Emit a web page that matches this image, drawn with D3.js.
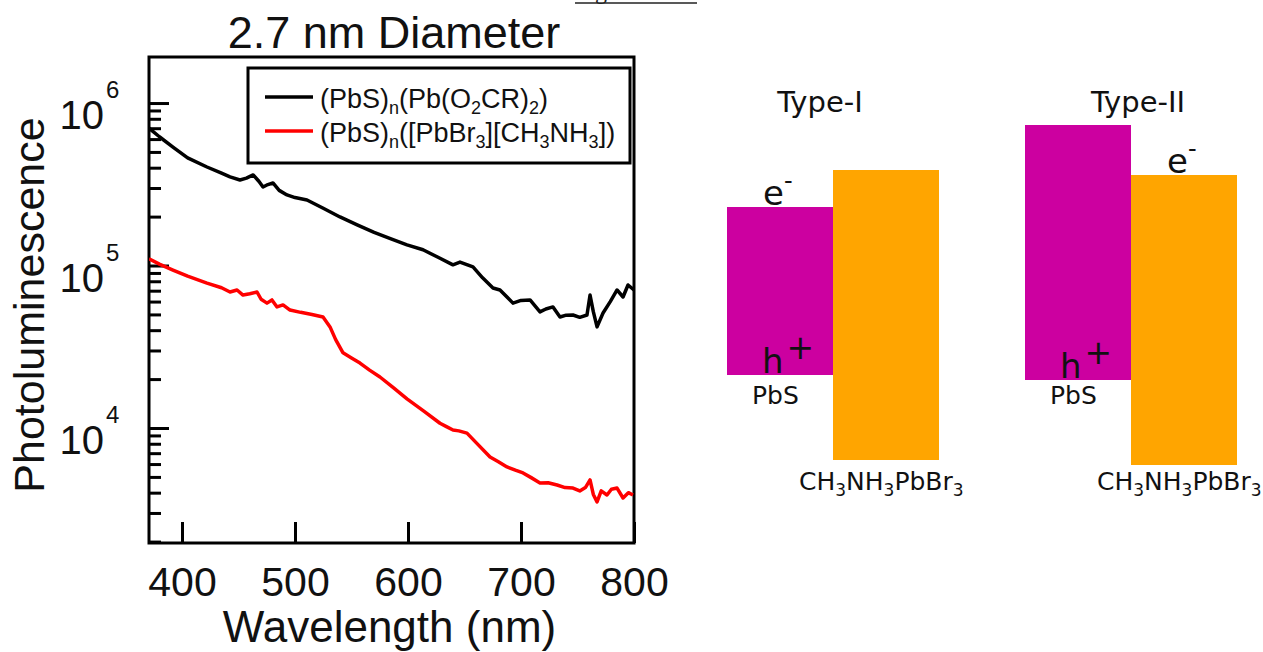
<!DOCTYPE html>
<html><head><meta charset="utf-8">
<script src="https://cdn.jsdelivr.net/npm/d3@7"></script>
<style>body{margin:0;background:#fff} svg{display:block}</style>
</head><body>
<svg id="c" width="1263" height="652"></svg>
<script>
// ---------- data: photoluminescence spectra ----------
const blackWl = [370.8,380,392.0,405,422.1,435,442.5,451.3,457,463.0,468,471.7,476,480.5,486,492.9,500,510.6,525,539.8,555,570,585,599.1,613.3,627,639.8,646.0,657.5,666,675.2,681.4,692.9,700,708.0,716.8,722,728.3,734.5,740,746.0,752,758.4,761.1,764,767.3,772.6,779,785.0,790.3,794.7,800];
const blackPL = [7.0e5,6.2e5,5.36e5,4.6e5,4.04e5,3.7e5,3.51e5,3.36e5,3.45e5,3.61e5,3.3e5,3.04e5,3.15e5,3.22e5,2.9e5,2.72e5,2.62e5,2.53e5,2.25e5,1.99e5,1.78e5,1.6e5,1.46e5,1.34e5,1.25e5,1.12e5,1.01e5,1.05e5,9.8e4,8.4e4,7.27e4,7.07e4,5.87e4,6.1e4,6.14e4,5.18e4,5.4e4,5.56e4,4.82e4,4.95e4,4.96e4,4.8e4,4.96e4,6.58e4,5.2e4,4.19e4,5.1e4,6.0e4,7.07e4,6.4e4,7.59e4,7.07e4];
const redWl = [370.8,380,392.0,405,422.1,435,442.5,448.7,454.0,460,466.4,470,475.2,479.6,484.1,489.4,495.6,505,515,524.8,531.0,536,542.5,550,557.5,566,575.2,587,599.1,614,628.3,634,639.8,645,652.2,662,672.6,680,687.6,695,701.8,709,716.8,724,731.9,739,746.0,752,757,761.1,764,767.3,771,776.1,780,785.0,790.3,795,799.1];
const redPL = [1.10e5,1.02e5,9.38e4,8.6e4,7.8e4,7.3e4,6.87e4,7.07e4,6.58e4,6.7e4,6.87e4,6.2e4,5.87e4,6.14e4,5.56e4,5.72e4,5.32e4,5.15e4,5.0e4,4.82e4,4.19e4,3.5e4,2.9e4,2.7e4,2.51e4,2.27e4,2.06e4,1.77e4,1.51e4,1.27e4,1.07e4,1.02e4,9.72e3,9.6e3,9.3e3,7.9e3,6.63e3,6.2e3,5.76e3,5.5e3,5.29e3,4.95e3,4.59e3,4.6e3,4.46e3,4.3e3,4.27e3,4.1e3,4.3e3,4.79e3,3.9e3,3.51e3,4.1e3,3.87e3,4.2e3,4.27e3,3.71e3,4.0e3,3.87e3];
const seriesColors = ["#000000", "#ff0000"];
const legendBlack = [["(PbS)",0],["n",1],["(Pb(O",0],["2",1],["CR)",0],["2",1],[")",0]];
const legendRed = [["(PbS)",0],["n",1],["([PbBr",0],["3",1],["][CH",0],["3",1],["NH",0],["3",1],["])",0]];
const xTicks = [400,500,600,700,800];
const yMajor = [1e4,1e5,1e6];
const yMinorMult = [2,3,4,5,6,7,8,9];
const xDomain = [370.8, 800];
const yDomain = [1960, 1.92e6];
const titleText = "2.7 nm Diameter";
const xLabel = "Wavelength (nm)";
const yLabel = "Photoluminescence";

// ---------- data: band alignment schematic ----------
const types = ["Type-I","Type-II"];
const materials = ["PbS","CH3NH3PbBr3"];
const pbsTop = [258, 340];
const pbsBottom = [90, 85];
const perTop = [295, 290];
const perBottom = [5, 0];
const bandColors = ["#cc00a0", "#ffa500"];

const svg = d3.select("#c");
const FONT = "'Liberation Sans', Arial, Helvetica, sans-serif";
const DJ = "'DejaVu Sans', sans-serif";

// ---------- left chart ----------
const L = 149, R = 634, T = 57, B = 543;
const x = d3.scaleLinear().domain(xDomain).range([L, R]);
const y = d3.scaleLog().domain(yDomain).range([B, T]);
const g = svg.append("g");

// frame
g.append("rect").attr("x", L).attr("y", T).attr("width", R-L).attr("height", B-T)
  .attr("fill","none").attr("stroke","#000").attr("stroke-width",3);

// bottom ticks (inward)
const xAxis = d3.axisBottom(x).tickValues(xTicks).tickSizeInner(-21).tickSizeOuter(0).tickFormat(d3.format("d"));
const gx = g.append("g").attr("transform", `translate(0,${B})`).call(xAxis);
gx.select(".domain").remove();
gx.selectAll(".tick line").attr("stroke","#000").attr("stroke-width",3);
gx.selectAll(".tick text").attr("y", 53).attr("dy", 0).attr("font-family", FONT).attr("font-size", 41).attr("fill","#111");

// left ticks
const minorVals = [];
[1e3,1e4,1e5,1e6].forEach(d => yMinorMult.forEach(m => { const v = d*m; if (v > yDomain[0] && v < yDomain[1]) minorVals.push(v); }));
const gyMinor = g.append("g").attr("transform", `translate(${L},0)`)
  .call(d3.axisLeft(y).tickValues(minorVals).tickSizeInner(-12).tickSizeOuter(0).tickFormat(""));
gyMinor.select(".domain").remove();
gyMinor.selectAll(".tick line").attr("stroke","#000").attr("stroke-width",3);
const gyMajor = g.append("g").attr("transform", `translate(${L},0)`)
  .call(d3.axisLeft(y).tickValues(yMajor).tickSizeInner(-20).tickSizeOuter(0).tickFormat(""));
gyMajor.select(".domain").remove();
gyMajor.selectAll(".tick line").attr("stroke","#000").attr("stroke-width",3);

// y tick labels 10^n
yMajor.forEach((v, i) => {
  const yy = y(v);
  g.append("text").attr("x", 104).attr("y", yy + 26).attr("text-anchor","end")
    .attr("font-family", FONT).attr("font-size", 40).attr("fill","#111").text("10");
  g.append("text").attr("x", 106).attr("y", yy - 5)
    .attr("font-family", FONT).attr("font-size", 24).attr("fill","#111").text(String(Math.round(Math.log10(v))));
});

// axis titles
g.append("text").attr("x", (L+R)/2 - 2).attr("y", 642).attr("text-anchor","middle")
  .attr("font-family", FONT).attr("font-size", 44).attr("fill","#111").text(xLabel);
g.append("text").attr("transform", `translate(44,305) rotate(-90)`).attr("text-anchor","middle")
  .attr("font-family", FONT).attr("font-size", 43).attr("fill","#111").text(yLabel);
g.append("text").attr("x", 394).attr("y", 48).attr("text-anchor","middle")
  .attr("font-family", FONT).attr("font-size", 45).attr("fill","#111").text(titleText);

// curves
const line = d3.line().x(d => x(d[0])).y(d => y(d[1]));
svg.append("clipPath").attr("id","pc").append("rect")
  .attr("x", L).attr("y", T).attr("width", R-L).attr("height", B-T);
const series = [d3.zip(blackWl, blackPL), d3.zip(redWl, redPL)];
g.append("g").attr("clip-path","url(#pc)").selectAll("path").data(series).join("path")
  .attr("d", line).attr("fill","none").attr("stroke", (d,i) => seriesColors[i])
  .attr("stroke-width", 3.5).attr("stroke-linejoin","round");

// legend
g.append("rect").attr("x", 248).attr("y", 68).attr("width", 382).attr("height", 95)
  .attr("fill","#fff").attr("stroke","#000").attr("stroke-width",3);
[legendBlack, legendRed].forEach((segs, i) => {
  const ly = 97 + i*34;
  g.append("line").attr("x1", 265).attr("x2", 313).attr("y1", ly).attr("y2", ly)
    .attr("stroke", seriesColors[i]).attr("stroke-width", 3.5);
  const t = g.append("text").attr("x", 320).attr("y", ly + 11)
    .attr("font-family", FONT).attr("font-size", 27).attr("fill","#111");
  let prev = 0;
  segs.forEach(([s, sub]) => {
    const shift = sub ? 6 : 0;
    t.append("tspan").attr("dy", shift - prev).attr("font-size", sub ? 18 : 27).text(s);
    prev = shift;
  });
});

// cut-off header at the top
svg.append("text").attr("x", 575).attr("y", -1).attr("font-family","'Liberation Serif', serif")
  .attr("font-size", 24).attr("fill","#222").text("Figure 4");
svg.append("line").attr("x1", 575).attr("x2", 697).attr("y1", 3).attr("y2", 3)
  .attr("stroke","#222").attr("stroke-width", 1.5);

// ---------- right schematic ----------
const yE = d3.scaleLinear().domain([0, 340]).range([465, 125]);
const x0 = d3.scaleBand().domain(types).range([727, 1237]).paddingInner(0.2886);
const x1 = d3.scaleBand().domain(materials).range([0, x0.bandwidth()]);
const d2 = svg.append("g");
const titleDx = [-13, 7];
types.forEach((tp, i) => {
  const gx0 = x0(tp);
  const bands = [
    {m: materials[0], top: pbsTop[i], bot: pbsBottom[i]},
    {m: materials[1], top: perTop[i], bot: perBottom[i]}
  ];
  bands.forEach((b, j) => {
    d2.append("rect").attr("x", gx0 + x1(b.m)).attr("y", yE(b.top))
      .attr("width", x1.bandwidth()).attr("height", yE(b.bot) - yE(b.top))
      .attr("fill", bandColors[j]);
  });
  d2.append("text").attr("x", gx0 + x0.bandwidth()/2 + titleDx[i]).attr("y", 112)
    .attr("text-anchor","middle").attr("font-family", DJ).attr("font-size", 29).attr("fill","#111").text(tp);
  // electron on the lower conduction band edge
  const ej = bands[0].top <= bands[1].top ? 0 : 1;
  const ex = gx0 + x1(bands[ej].m) + 36;
  const et = d2.append("text").attr("x", ex).attr("y", yE(bands[ej].top) - 2)
    .attr("font-family", DJ).attr("font-size", 34).attr("fill","#111");
  et.append("tspan").text("e");
  et.append("tspan").attr("dy", -16).attr("font-size", 24).text("-");
  // hole on the higher valence band edge
  const hj = bands[0].bot >= bands[1].bot ? 0 : 1;
  const hx = gx0 + x1(bands[hj].m) + 35;
  const ht = d2.append("text").attr("x", hx).attr("y", yE(bands[hj].bot) - 2)
    .attr("font-family", DJ).attr("font-size", 34).attr("fill","#111");
  ht.append("tspan").text("h");
  ht.append("tspan").attr("dx", 3).attr("dy", -14).attr("font-size", 33).text("+");
  // material labels
  d2.append("text").attr("x", gx0 + x1(materials[0]) + 25).attr("y", 404)
    .attr("font-family", DJ).attr("font-size", 25).attr("fill","#111").text("PbS");
  const ct = d2.append("text").attr("x", gx0 + x1(materials[1]) - 34).attr("y", 490)
    .attr("font-family", DJ).attr("font-size", 25).attr("fill","#111");
  [["CH",0],["3",1],["NH",0],["3",1],["PbBr",0],["3",1]].reduce((prev, [s, sub]) => {
    const shift = sub ? 6 : 0;
    ct.append("tspan").attr("dy", shift - prev).attr("font-size", sub ? 17 : 25).text(s);
    return shift;
  }, 0);
});
</script>
</body></html>
